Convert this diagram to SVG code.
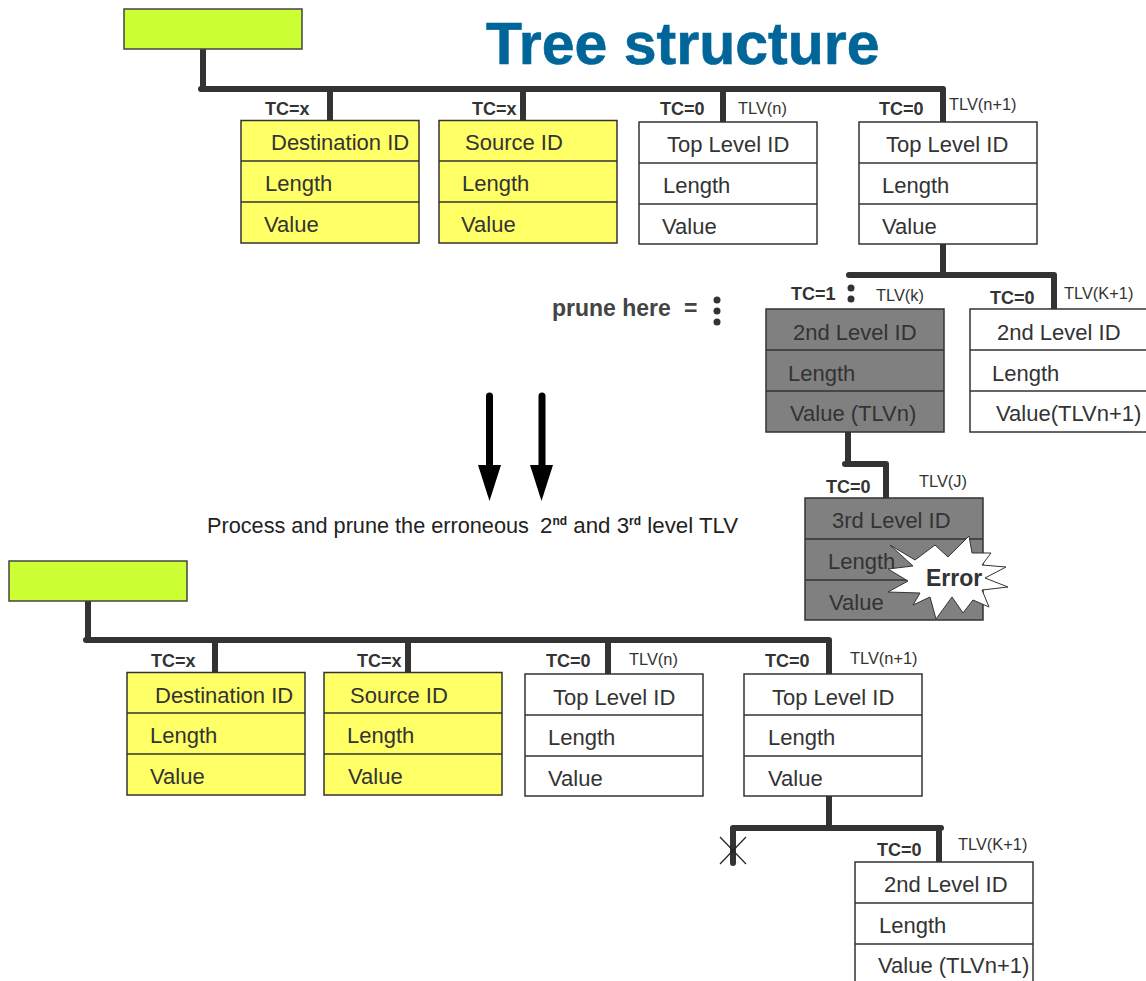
<svg xmlns="http://www.w3.org/2000/svg" width="1146" height="981" viewBox="0 0 1146 981">
<style>
text{font-family:"Liberation Sans",Arial,sans-serif;fill:#333}
.r{stroke:#333;stroke-width:1.5}
.y{fill:#ffff66}.w{fill:#fff}.g{fill:#808080}.l{fill:#ccff33;stroke:#444;stroke-width:1.5}
.t{font-size:22px}
.tc{font-size:18px;font-weight:bold}
.tlv{font-size:16.400px}
.c{fill:none;stroke:#333;stroke-width:6;stroke-linecap:round;stroke-linejoin:miter}
.x{stroke:#222;stroke-width:1.2}
.a{stroke:#000;stroke-width:7;stroke-linecap:round}
.p{font-size:21.700px;fill:#222}
.q{font-size:22.300px;fill:#222}
.s{font-size:12px;font-weight:bold;fill:#222}
</style>
<defs>
<g id="box3"><path class="r" fill="none" d="M0 41H178M0 82H178"/></g>
</defs>
<g id="connectors">
<path class="c" d="M203 48V89M201 89H943M330 89V120M523 89V120M723 89V121M943 89V121"/>
<path class="c" d="M943 244V275M849 275H1054M1054 275V309"/>
<path class="c" d="M848 432V464M845 464H886M886 464V498"/>
<path class="c" d="M88 601V640M86 640H829M215 640V672M408 640V672M608 640V673M829 640V673"/>
<path class="c" d="M829 796V828M733 828H941M733 828V863M939 828V861"/>
</g>
<g id="root1"><rect class="l" x="124" y="9" width="178" height="40"/></g>
<g id="root2"><rect class="l" x="9" y="561" width="178" height="40"/></g>
<g id="title"><text x="486" y="64" style="font-size:59px;font-weight:bold;fill:#006699;stroke:#006699;stroke-width:.6">Tree structure</text></g>

<g id="dest1"><rect class="r y" x="241" y="120.500" width="178" height="122.500"/><use href="#box3" x="241" y="120"/><text class="t" x="271" y="150">Destination ID</text><text class="t" x="265" y="191">Length</text><text class="t" x="264" y="232">Value</text></g>
<g id="src1"><rect class="r y" x="439" y="120.500" width="178" height="122.500"/><use href="#box3" x="439" y="120"/><text class="t" x="465" y="150">Source ID</text><text class="t" x="462" y="191">Length</text><text class="t" x="461" y="232">Value</text></g>
<g id="top1"><rect class="r w" x="639" y="122" width="178" height="122"/><use href="#box3" x="639" y="122"/><text class="t" x="667" y="152">Top Level ID</text><text class="t" x="663" y="193">Length</text><text class="t" x="662" y="234">Value</text></g>
<g id="top2"><rect class="r w" x="859" y="122" width="178" height="122"/><use href="#box3" x="859" y="122"/><text class="t" x="886" y="152">Top Level ID</text><text class="t" x="882" y="193">Length</text><text class="t" x="882" y="234">Value</text></g>
<g id="second1"><rect class="r g" x="766" y="309" width="178" height="123"/><use href="#box3" x="766" y="309"/><text class="t" x="793" y="340">2nd Level ID</text><text class="t" x="788" y="381">Length</text><text class="t" x="790" y="421">Value (TLVn)</text></g>
<g id="second2"><rect class="r w" x="970" y="309" width="178" height="123"/><use href="#box3" x="970" y="309"/><text class="t" x="997" y="340">2nd Level ID</text><text class="t" x="992" y="381">Length</text><text class="t" x="996" y="421">Value(TLVn+1)</text></g>
<g id="third"><rect class="r g" x="805" y="498" width="178" height="122"/><use href="#box3" x="805" y="498"/><text class="t" x="832" y="528">3rd Level ID</text><text class="t" x="828" y="569">Length</text><text class="t" x="829" y="610">Value</text></g>
<g id="error"><polygon fill="#fff" stroke="#333" stroke-width="1" points="890,545 915,560 935,545 948,557 969,536 972,553 991,553 982,565 1006,567 985,578 1008,587 982,590 989,607 973,600 963,613 952,597 936,619 930,597 913,605 920,593 888,592 908,581 888,569 913,566"/><text x="926" y="586" style="font-size:23px;font-weight:bold">Error</text></g>

<g id="dest2"><rect class="r y" x="127" y="672.500" width="178" height="122.500"/><use href="#box3" x="127" y="672"/><text class="t" x="155" y="703">Destination ID</text><text class="t" x="150" y="743">Length</text><text class="t" x="150" y="784">Value</text></g>
<g id="src2"><rect class="r y" x="324" y="672.500" width="178" height="122.500"/><use href="#box3" x="324" y="672"/><text class="t" x="350" y="703">Source ID</text><text class="t" x="347" y="743">Length</text><text class="t" x="348" y="784">Value</text></g>
<g id="top3"><rect class="r w" x="525" y="674" width="178" height="122"/><use href="#box3" x="525" y="674"/><text class="t" x="553" y="705">Top Level ID</text><text class="t" x="548" y="745">Length</text><text class="t" x="548" y="786">Value</text></g>
<g id="top4"><rect class="r w" x="744" y="674" width="178" height="122"/><use href="#box3" x="744" y="674"/><text class="t" x="772" y="705">Top Level ID</text><text class="t" x="768" y="745">Length</text><text class="t" x="768" y="786">Value</text></g>
<g id="second3"><rect class="r w" x="855" y="862" width="178" height="123"/><use href="#box3" x="855" y="862"/><text class="t" x="884" y="892">2nd Level ID</text><text class="t" x="879" y="933">Length</text><text class="t" x="878" y="973">Value (TLVn+1)</text></g>

<g id="labels">
<text class="tc" x="265" y="115">TC=x</text><text class="tc" x="472" y="115">TC=x</text>
<text class="tc" x="660" y="115">TC=0</text><text class="tlv" x="738" y="114">TLV(n)</text>
<text class="tc" x="879" y="115">TC=0</text><text class="tlv" x="949" y="110">TLV(n+1)</text>
<text class="tc" x="791" y="300">TC=1</text><text class="tlv" x="876" y="301">TLV(k)</text>
<text class="tc" x="990" y="304">TC=0</text><text class="tlv" x="1064" y="299">TLV(K+1)</text>
<text class="tc" x="826" y="493">TC=0</text><text class="tlv" x="919" y="487">TLV(J)</text>
<text class="tc" x="151" y="667">TC=x</text><text class="tc" x="357" y="667">TC=x</text>
<text class="tc" x="546" y="667">TC=0</text><text class="tlv" x="629" y="665">TLV(n)</text>
<text class="tc" x="765" y="667">TC=0</text><text class="tlv" x="850" y="664">TLV(n+1)</text>
<text class="tc" x="877" y="856">TC=0</text><text class="tlv" x="958" y="850">TLV(K+1)</text>
<text x="552" y="316" style="font-size:23px;font-weight:bold;fill:#444">prune here</text>
<text x="684" y="316" style="font-size:23px;font-weight:bold;fill:#444">=</text>
<text class="p" x="207" y="533">Process and prune the erroneous</text>
<text class="q" x="540" y="533">2<tspan class="s" dy="-8">nd</tspan><tspan dy="8"> and 3</tspan><tspan class="s" dy="-8">rd</tspan><tspan dy="8"> level TLV</tspan></text>
</g>
<g id="prune-dots" fill="#333">
<circle cx="717" cy="300" r="3.500"/><circle cx="717" cy="311" r="3.500"/><circle cx="717" cy="322" r="3.500"/>
<circle cx="851" cy="288" r="3.500"/><circle cx="851" cy="299" r="3.500"/>
</g>
<g id="arrows">
<path class="a" d="M489.500 396V470M542 396V470"/>
<polygon points="478,465 501,465 489.500,501"/><polygon points="530,465 553,465 541.500,501"/>
</g>
<g id="cut"><path class="x" d="M720 837L746 864M746 837L720 864"/></g>
</svg>
